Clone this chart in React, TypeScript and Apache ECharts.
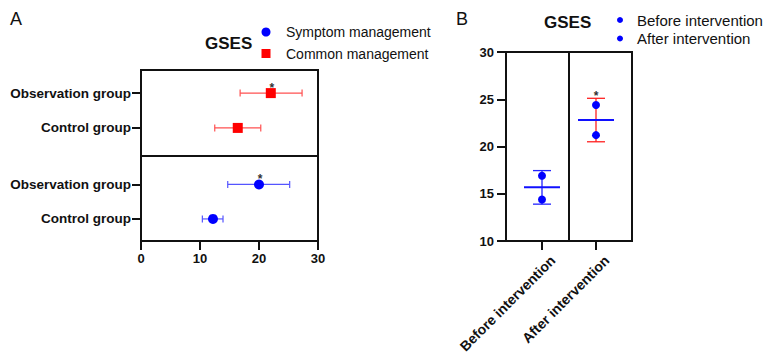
import React, { useEffect, useRef } from "react";
import * as echarts from "echarts";

const FONT = "'Liberation Sans', Arial, sans-serif";

// Panel A
const rowLabelsA = ["Control group", "Observation group", "Control group", "Observation group"];
const rowPosA = [1, 2, 3.64, 4.65];
const symptomMean = [12.2, 20.0];
const symptomLow = [10.4, 14.7];
const symptomHigh = [13.9, 25.2];
const commonMean = [16.4, 22.0];
const commonLow = [12.5, 16.8];
const commonHigh = [20.3, 27.3];
const sigA = [0, 1];
const xTicksA = [0, 10, 20, 30];

// Panel B
const groupsB = ["Before intervention", "After intervention"];
const groupPosB = [1, 2];
const labelShiftB = 0.2;
const beforePoints = [16.9, 14.4];
const afterPoints = [24.4, 21.2];
const meanB = [15.7, 22.8];
const lowB = [13.9, 20.5];
const highB = [17.45, 25.1];
const sigB = [0, 1];
const yTicksB = [10, 15, 20, 25, 30];

function hErr(color: string) {
  return (params: any, api: any) => {
    const y = api.value(0);
    const lo = api.value(1);
    const hi = api.value(2);
    const m = api.value(3);
    const sig = api.value(4);
    const p1 = api.coord([lo, y]);
    const p2 = api.coord([hi, y]);
    const pm = api.coord([m, y]);
    const cap = 3.5;
    const children: any[] = [
      { type: "line", shape: { x1: p1[0], y1: p1[1], x2: p2[0], y2: p2[1] }, style: { stroke: color, lineWidth: 1.2 } },
      { type: "line", shape: { x1: p1[0], y1: p1[1] - cap, x2: p1[0], y2: p1[1] + cap }, style: { stroke: color, lineWidth: 1.2 } },
      { type: "line", shape: { x1: p2[0], y1: p2[1] - cap, x2: p2[0], y2: p2[1] + cap }, style: { stroke: color, lineWidth: 1.2 } },
    ];
    if (sig) {
      children.push({
        type: "text",
        x: pm[0] + 1,
        y: pm[1] - 5,
        style: { text: "*", fill: "#333", font: `bold 12px ${FONT}`, align: "center", verticalAlign: "middle" },
      });
    }
    return { type: "group", children };
  };
}

function vErr(params: any, api: any) {
  const x = api.value(0);
  const m = api.value(1);
  const lo = api.value(2);
  const hi = api.value(3);
  const sig = api.value(4);
  const pLo = api.coord([x, lo]);
  const pHi = api.coord([x, hi]);
  const pM = api.coord([x, m]);
  const errColor = params.dataIndex === 0 ? "#2222ff" : "#ff2020";
  const cap = 9;
  const half = 18;
  const children: any[] = [
    { type: "line", shape: { x1: pLo[0], y1: pLo[1], x2: pHi[0], y2: pHi[1] }, style: { stroke: errColor, lineWidth: 1.3 } },
    { type: "line", shape: { x1: pLo[0] - cap, y1: pLo[1], x2: pLo[0] + cap, y2: pLo[1] }, style: { stroke: errColor, lineWidth: 1.3 } },
    { type: "line", shape: { x1: pHi[0] - cap, y1: pHi[1], x2: pHi[0] + cap, y2: pHi[1] }, style: { stroke: errColor, lineWidth: 1.3 } },
    { type: "line", shape: { x1: pM[0] - half, y1: pM[1], x2: pM[0] + half, y2: pM[1] }, style: { stroke: "#1010ff", lineWidth: 2 } },
  ];
  if (sig) {
    children.push({
      type: "text",
      x: pHi[0],
      y: pHi[1] - 2,
      style: { text: "*", fill: "#333", font: `bold 12px ${FONT}`, align: "center", verticalAlign: "middle" },
    });
  }
  return { type: "group", children };
}

function labelFor(pos: number[], labels: string[]) {
  return (v: number) => {
    for (let i = 0; i < pos.length; i++) if (Math.abs(pos[i] - v) < 0.01) return labels[i];
    return "";
  };
}

export default function App() {
  const ref = useRef<HTMLDivElement>(null);
  useEffect(() => {
    if (!ref.current) return;
    const chart = echarts.init(ref.current, null, { renderer: "svg" });
    const axisLine = { show: true, lineStyle: { color: "#111", width: 2 } };
    const axisTick = { show: true, length: 9, lineStyle: { color: "#111", width: 2 } };
    const boldLabel = { color: "#111", fontWeight: "bold", fontSize: 13, fontFamily: FONT };
    const labelPosB = groupPosB.map((p) => p + labelShiftB);

    const option: any = {
      animation: false,
      backgroundColor: "#fff",
      textStyle: { fontFamily: FONT },
      graphic: [
        { type: "text", x: 10, y: 19, style: { text: "A", font: `18px ${FONT}`, fill: "#111", verticalAlign: "middle" } },
        { type: "text", x: 205, y: 43, style: { text: "GSES", font: `bold 17px ${FONT}`, fill: "#111", verticalAlign: "middle" } },
        { type: "text", x: 456, y: 19, style: { text: "B", font: `18px ${FONT}`, fill: "#111", verticalAlign: "middle" } },
        { type: "text", x: 544, y: 22, style: { text: "GSES", font: `bold 17px ${FONT}`, fill: "#111", verticalAlign: "middle" } },
      ],
      legend: [
        {
          orient: "vertical",
          left: 261.5,
          top: 25,
          padding: 0,
          itemGap: 7.5,
          itemWidth: 9,
          itemHeight: 9,
          textStyle: { fontSize: 14, lineHeight: 14, color: "#111", fontFamily: FONT, padding: [0, 0, 0, 10.5] },
          data: [
            { name: "Symptom management", icon: "circle" },
            { name: "Common management", icon: "rect" },
          ],
        },
        {
          orient: "vertical",
          left: 617,
          top: 12.5,
          padding: 0,
          itemGap: 3.5,
          itemWidth: 6,
          itemHeight: 6,
          textStyle: { fontSize: 15, lineHeight: 15, color: "#111", fontFamily: FONT, padding: [0, 0, 0, 9] },
          data: [
            { name: "Before intervention", icon: "circle" },
            { name: "After intervention", icon: "circle" },
          ],
        },
      ],
      grid: [
        { left: 141, top: 70, width: 177, height: 171, show: true, borderColor: "#111", borderWidth: 2, backgroundColor: "transparent", outerBoundsMode: "none", containLabel: false },
        { left: 506, top: 52, width: 126, height: 189, show: true, borderColor: "#111", borderWidth: 2, backgroundColor: "transparent", outerBoundsMode: "none", containLabel: false },
      ],
      xAxis: [
        {
          gridIndex: 0,
          type: "value",
          min: xTicksA[0],
          max: xTicksA[xTicksA.length - 1],
          interval: 10,
          axisLine,
          axisTick,
          splitLine: { show: false },
          axisLabel: { ...boldLabel, margin: 11 },
        },
        {
          gridIndex: 1,
          type: "value",
          min: 1 / 3,
          max: 8 / 3,
          axisLine,
          axisTick: { ...axisTick, customValues: groupPosB },
          splitLine: { show: false },
          axisLabel: {
            ...boldLabel,
            fontSize: 14,
            rotate: 45,
            margin: 17,
            customValues: labelPosB,
            formatter: labelFor(labelPosB, groupsB),
          },
        },
      ],
      yAxis: [
        {
          gridIndex: 0,
          type: "value",
          min: 0.36,
          max: 5.32,
          axisLine,
          axisTick: { ...axisTick, customValues: rowPosA },
          splitLine: { show: false },
          axisLabel: { ...boldLabel, fontSize: 13.5, margin: 10, customValues: rowPosA, formatter: labelFor(rowPosA, rowLabelsA) },
        },
        {
          gridIndex: 1,
          type: "value",
          min: yTicksB[0],
          max: yTicksB[yTicksB.length - 1],
          interval: 5,
          axisLine,
          axisTick,
          splitLine: { show: false },
          axisLabel: { ...boldLabel, margin: 12 },
        },
      ],
      series: [
        {
          type: "custom",
          name: "symptomErr",
          xAxisIndex: 0,
          yAxisIndex: 0,
          renderItem: hErr("#5555ff"),
          encode: { x: [1, 2, 3], y: 0 },
          data: symptomMean.map((m, i) => [rowPosA[i], symptomLow[i], symptomHigh[i], m, sigA[i]]),
          z: 2,
        },
        {
          type: "custom",
          name: "commonErr",
          xAxisIndex: 0,
          yAxisIndex: 0,
          renderItem: hErr("#ff5050"),
          encode: { x: [1, 2, 3], y: 0 },
          data: commonMean.map((m, i) => [rowPosA[i + 2], commonLow[i], commonHigh[i], m, sigA[i]]),
          z: 2,
        },
        {
          type: "scatter",
          name: "Symptom management",
          xAxisIndex: 0,
          yAxisIndex: 0,
          symbol: "circle",
          symbolSize: 10,
          itemStyle: { color: "#0000ff", opacity: 1 },
          data: symptomMean.map((m, i) => [m, rowPosA[i]]),
          z: 3,
          markLine: {
            silent: true,
            symbol: ["none", "none"],
            label: { show: false },
            lineStyle: { color: "#111", width: 2, type: "solid" },
            data: [{ yAxis: 2.83 }],
          },
        },
        {
          type: "scatter",
          name: "Common management",
          xAxisIndex: 0,
          yAxisIndex: 0,
          symbol: "rect",
          symbolSize: 10,
          itemStyle: { color: "#ff0000", opacity: 1 },
          data: commonMean.map((m, i) => [m, rowPosA[i + 2]]),
          z: 3,
        },
        {
          type: "custom",
          name: "errB",
          xAxisIndex: 1,
          yAxisIndex: 1,
          renderItem: vErr,
          encode: { x: 0, y: [1, 2, 3] },
          data: meanB.map((m, i) => [groupPosB[i], m, lowB[i], highB[i], sigB[i]]),
          z: 2,
        },
        {
          type: "scatter",
          name: "Before intervention",
          xAxisIndex: 1,
          yAxisIndex: 1,
          symbol: "circle",
          symbolSize: 8,
          itemStyle: { color: "#0000ff", opacity: 1 },
          data: beforePoints.map((v) => [groupPosB[0], v]),
          z: 3,
          markLine: {
            silent: true,
            symbol: ["none", "none"],
            label: { show: false },
            lineStyle: { color: "#111", width: 2, type: "solid" },
            data: [{ xAxis: 1.5 }],
          },
        },
        {
          type: "scatter",
          name: "After intervention",
          xAxisIndex: 1,
          yAxisIndex: 1,
          symbol: "circle",
          symbolSize: 8,
          itemStyle: { color: "#0000ff", opacity: 1 },
          data: afterPoints.map((v) => [groupPosB[1], v]),
          z: 3,
        },
      ],
    };
    chart.setOption(option);
    return () => chart.dispose();
  }, []);
  return <div ref={ref} style={{ width: 765, height: 353, position: "absolute", left: 0, top: 0 }} />;
}
